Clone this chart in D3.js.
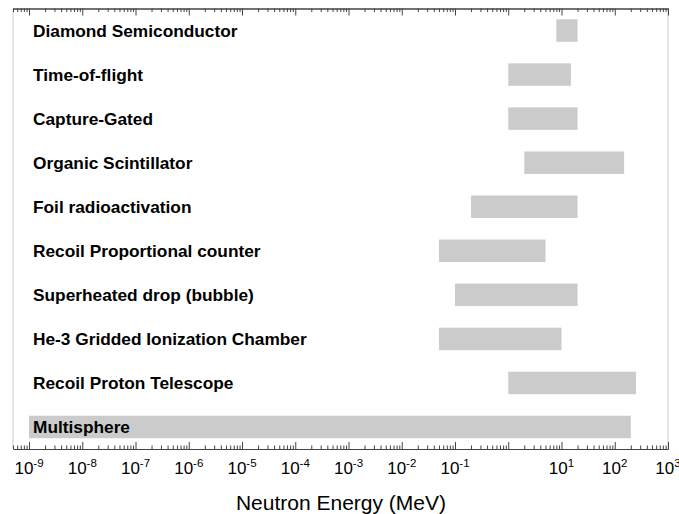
<!DOCTYPE html>
<html>
<head>
<meta charset="utf-8">
<script src="https://cdn.jsdelivr.net/npm/d3@7"></script>
<style>
  body { margin: 0; background: #fff; }
  svg { display: block; font-family: "Liberation Sans", Arial, sans-serif; }
</style>
</head>
<body>
<div id="chart"></div>
<script>
// detector names, top to bottom
const detectors = [
  "Diamond Semiconductor",
  "Time-of-flight",
  "Capture-Gated",
  "Organic Scintillator",
  "Foil radioactivation",
  "Recoil Proportional counter",
  "Superheated drop (bubble)",
  "He-3 Gridded Ionization Chamber",
  "Recoil Proton Telescope",
  "Multisphere"
];
// energy range of each detector (MeV)
const rangeLow  = [8, 1, 1, 2, 0.2, 0.05, 0.1, 0.05, 1, 1e-9];
const rangeHigh = [20, 15, 20, 150, 20, 5, 20, 10, 250, 200];

// decade exponents that carry a label (10^0 has none in the original)
const labelExponents = [-9, -8, -7, -6, -5, -4, -3, -2, -1, 1, 2, 3];
const majorExponents = d3.range(-9, 4);

const width = 679, height = 514;
const plotLeft = 13, plotRight = 668, plotTop = 8.5, plotBottom = 449;

const svg = d3.select('#chart')
  .append('svg')
  .attr('width', width)
  .attr('height', height);

const x = d3.scaleLog().domain([5e-10, 1e3]).range([plotLeft, plotRight]);
const y = d3.scaleBand().domain(detectors).range([plotTop, plotBottom])
  .paddingInner(0.49).paddingOuter(0.245);

// plot frame sides
svg.append('line').attr('x1', plotLeft).attr('x2', plotLeft).attr('y1', plotTop).attr('y2', plotBottom)
  .attr('stroke', '#dcdcdc').attr('stroke-width', 1.5);
svg.append('line').attr('x1', plotRight).attr('x2', plotRight).attr('y1', plotTop).attr('y2', plotBottom)
  .attr('stroke', '#dcdcdc').attr('stroke-width', 1.5);

// bars
const data = detectors.map((d, i) => ({ name: d, lo: rangeLow[i], hi: rangeHigh[i] }));
svg.selectAll('rect.bar')
  .data(data)
  .enter()
  .append('rect')
  .attr('class', 'bar')
  .attr('x', d => x(d.lo))
  .attr('width', d => x(d.hi) - x(d.lo))
  .attr('y', d => y(d.name))
  .attr('height', y.bandwidth())
  .attr('fill', '#cbcbcb');

// labels
svg.selectAll('text.name')
  .data(data)
  .enter()
  .append('text')
  .attr('class', 'name')
  .attr('x', 33)
  .attr('y', d => y(d.name) + y.bandwidth() / 2)
  .attr('dy', '0.35em')
  .attr('font-size', 17.3)
  .attr('font-weight', 'bold')
  .attr('fill', '#000')
  .text(d => d.name);

// ticks
const majors = majorExponents.map(e => Math.pow(10, e));
const minors = [];
majorExponents.concat([-10]).forEach(e => {
  for (let m = 2; m <= 9; m++) {
    const v = m * Math.pow(10, e);
    if (v >= 5e-10 && v <= 1e3) minors.push(v);
  }
});

function drawAxis(axisFn, ty) {
  const gMaj = svg.append('g').attr('transform', `translate(0,${ty})`)
    .call(axisFn(x).tickValues(majors).tickSize(-7).tickSizeOuter(0).tickFormat(''));
  const gMin = svg.append('g').attr('transform', `translate(0,${ty})`)
    .call(axisFn(x).tickValues(minors).tickSize(-3.5).tickSizeOuter(0).tickFormat(''));
  [gMaj, gMin].forEach(a => {
    a.selectAll('.domain').attr('stroke', '#444').attr('stroke-width', 1.2);
    a.selectAll('.tick line').attr('stroke', '#444');
  });
}
drawAxis(d3.axisBottom, plotBottom);
drawAxis(d3.axisTop, plotTop);

// decade labels
const lbl = svg.selectAll('text.tick-label')
  .data(labelExponents)
  .enter()
  .append('text')
  .attr('class', 'tick-label')
  .attr('x', e => x(Math.pow(10, e)))
  .attr('y', 474)
  .attr('text-anchor', 'middle')
  .attr('font-size', 17)
  .attr('fill', '#000');
lbl.append('tspan').text('10');
lbl.append('tspan').attr('dy', -7.5).attr('font-size', 11.5).text(e => String(e));

svg.append('text')
  .attr('x', 341)
  .attr('y', 510)
  .attr('text-anchor', 'middle')
  .attr('font-size', 21)
  .attr('fill', '#000')
  .text('Neutron Energy (MeV)');
</script>
</body>
</html>
